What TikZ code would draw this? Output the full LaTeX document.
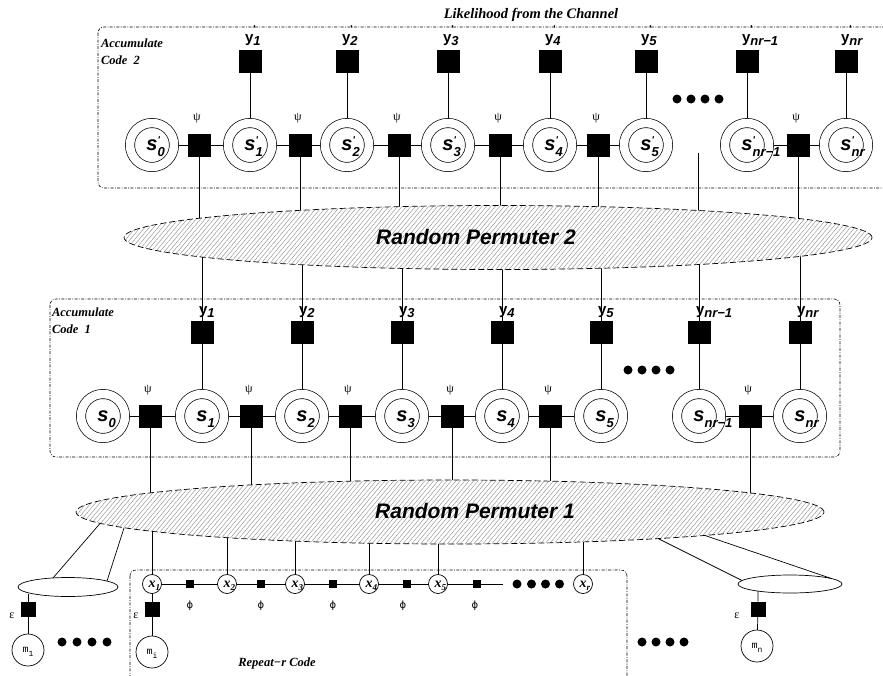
\documentclass[tikz,border=0pt]{standalone}
\usepackage{fontspec}
\usetikzlibrary{shapes.geometric,patterns.meta}
\newfontfamily\hv{Liberation Sans}
\newfontfamily\tms{Liberation Serif}
\newfontfamily\mono{Liberation Mono}
\newfontfamily\dvs{DejaVu Sans}
\newcommand{\fsz}[1]{\fontsize{#1}{#1}\selectfont}
\newcommand{\ylab}[1]{{\hv\bfseries\fsz{15}y\raisebox{-3pt}{\itshape\fsz{13}#1}}}
\newcommand{\ylabp}[1]{{\hv\bfseries\fsz{15}y\rlap{\smash{\raisebox{10pt}{\fsz{10}'}}}\raisebox{-3pt}{\itshape\fsz{13}#1}}}
\newcommand{\slab}[1]{{\hv\bfseries\itshape\fsz{20}s\rlap{\smash{\raisebox{-6pt}{\fsz{13}#1}}}}}
\newcommand{\slabp}[1]{{\hv\bfseries\itshape\fsz{20}s\rlap{\smash{\raisebox{7pt}{\fsz{10}'}}}\rlap{\smash{\raisebox{-6pt}{\fsz{13}#1}}}}}
\newcommand{\xlab}[1]{{\tms\bfseries\itshape\fsz{14}x\rlap{\smash{\raisebox{-3pt}{\fsz{9}#1}}}}}
\newcommand{\mlab}[1]{{\mono\fsz{10}m\smash{\raisebox{-4pt}{\fsz{8}#1}}}}
\begin{document}
\begin{tikzpicture}[x=1pt,y=-1pt,
  every node/.style={inner sep=0pt, outer sep=0pt},
  ln/.style={line width=0.7pt},
  state/.style={circle, draw, double, double distance=8.5pt, line width=0.7pt, minimum size=44pt, outer sep=5pt},
  bsq/.style={fill=black, minimum size=23pt},
  smsq/.style={fill=black, minimum size=8pt},
  esq/.style={fill=black, minimum size=15pt},
  xnd/.style={circle, draw, line width=0.7pt, minimum size=19pt},
  mnd/.style={circle, draw, line width=0.7pt, minimum size=32pt},
  grk/.style={font=\tms\fsz{12}},
  phs/.style={font=\dvs\fsz{10}},
  dbox/.style={draw, line width=0.6pt, dash pattern=on 3pt off 1.4pt on 0.8pt off 1.4pt, rounded corners=6pt},
  perm/.style={ellipse, draw, line width=0.7pt, dash pattern=on 6pt off 3pt, minimum width=748pt, minimum height=64pt, preaction={fill=white}, pattern={Lines[angle=50, distance=3.4pt, line width=0.45pt]}, pattern color=gray!85},
  sel/.style={ellipse, draw, line width=0.7pt, minimum height=19pt},
  ttl/.style={font=\tms\bfseries\itshape\fsz{14.5}},
  acc/.style={font=\tms\bfseries\itshape\fontsize{12.5}{16.5}\selectfont, anchor=west, align=left},
  pmt/.style={font=\hv\bfseries\itshape\fsz{21}},
  dotsty/.style={circle, fill=black, minimum size=9pt}
]
\useasboundingbox (0,0) rectangle (883,675);

% boxes
\draw[dbox] (98,27) rectangle (905,188);
\draw[dbox] (50,299) rectangle (840,457);
\draw[dbox] (130,570) rectangle (627,700);

\node[ttl] (title) at (531,15) {Likelihood from the Channel};
\node[acc] (acc2) at (101,51.5) {Accumulate\\Code\ \ 2};
\node[acc] (acc1) at (52,320.5) {Accumulate\\Code\ \ 1};
\node[font=\tms\bfseries\itshape\fsz{12.5}] (rep) at (277,663) {Repeat−r Code};

% ---- Accumulate code 2
\foreach \x/\s [count=\i from 0] in {152/0,250/1,347/2,448/3,550/4,646/5,747/nr−1,846/nr}
  \node[state] (sp\i) at (\x,145) {\slabp{\s}};
\foreach \x [count=\i] in {199,300,399,500,598,798} {
  \node[bsq] (pp\i) at (\x,145) {};
  \node[grk] (ppl\i) at (\x-2,118) {ψ};
}
\foreach \a/\b/\c in {0/1/1,1/2/2,2/3/3,3/4/4,4/5/5,6/6/7}
  \draw[ln] (sp\a) -- (pp\b) -- (sp\c);
\foreach \x/\s [count=\i] in {250/1,347/2,448/3,550/4,646/5,747/nr−1,846/nr} {
  \node[bsq] (yp\i) at (\x,61) {};
  \node[anchor=west] (ypl\i) at (\x-5,40) {\ylabp{\s}};
  \draw[ln] (yp\i) -- (sp\i);
}
\foreach \x [count=\i] in {677,691,705,719} \node[dotsty] (dta\i) at (\x,99) {};

% ---- Accumulate code 1
\foreach \x/\s [count=\i from 0] in {103/0,202/1,302/2,402/3,502/4,601/5,699/nr−1,800/nr}
  \node[state] (s\i) at (\x,416) {\slab{\s}};
\foreach \x [count=\i] in {150,251,350,452,550,750} {
  \node[bsq] (pa\i) at (\x,416) {};
  \node[grk] (pal\i) at (\x-2,390) {ψ};
}
\foreach \a/\b/\c in {0/1/1,1/2/2,2/3/3,3/4/4,4/5/5,6/6/7}
  \draw[ln] (s\a) -- (pa\b) -- (s\c);
\foreach \x/\s [count=\i] in {202/1,302/2,402/3,502/4,601/5,699/nr−1,800/nr} {
  \node[bsq] (ya\i) at (\x,332) {};
  \node[anchor=west] (yal\i) at (\x-3,312) {\ylab{\s}};
  \draw[ln] (ya\i) -- (s\i);
}
\foreach \x [count=\i] in {628,642,656,670} \node[dotsty] (dtb\i) at (\x,370) {};

% ---- Repeat code row
\foreach \x/\s [count=\i] in {152/1,227/2,295/3,369/4,438/5,583/r}
  \node[xnd] (x\i) at (\x,584) {\xlab{\s}};
\foreach \x [count=\i] in {190,261,333,407,477} \node[smsq] (q\i) at (\x,584) {};
\coordinate (qend) at (503,584);
\draw[ln] (x1) -- (q1) -- (x2) -- (q2) -- (x3) -- (q3) -- (x4) -- (q4) -- (x5) -- (q5) -- (qend);
\foreach \x [count=\i] in {190,261,333,403,475} \node[phs] (ph\i) at (\x,606) {ϕ};
\foreach \x [count=\i] in {517,531.5,545.5,559.5} \node[dotsty] (dtc\i) at (\x,584) {};

% ---- connections through permuters
\coordinate (c2) at (498,237.5);
\coordinate (c1) at (450,512);
\foreach \i in {1,...,6} \draw[ln] (pp\i.south) -- (pp\i.south |- c2);
\coordinate (lone) at (698,153);
\draw[ln] (lone) -- (lone |- c2);
\foreach \i in {1,...,7} \draw[ln] (ya\i.north) -- (ya\i.north |- c2);
\foreach \i in {1,...,6} \draw[ln] (pa\i.south) -- (pa\i.south |- c1);
\foreach \i in {1,...,6} \draw[ln] (x\i.north) -- (x\i.north |- c1);

\node[perm] (perm2) at (c2) {};
\node[pmt] (perm2t) at (476,237) {Random Permuter 2};
\node[perm] (perm1) at (c1) {};
\node[pmt] (perm1t) at (475,511) {Random Permuter 1};

% ---- left group
\node[sel, minimum width=100pt] (lel) at (68,587) {};
\coordinate (la1) at (100,523.5); \coordinate (la2) at (124,528);
\coordinate (lb1) at (53,578); \coordinate (lb2) at (107,581);
\draw[ln] (la1) -- (lb1);
\draw[ln] (la2) -- (lb2);
\coordinate (lc) at (28,593.5);
\node[esq] (eL) at (28,609) {};
\node[mnd] (m1) at (28,650) {\mlab{1}};
\draw[ln] (lc) -- (eL) -- (m1);
\node[grk] (epL) at (12,616) {ε};
\foreach \x [count=\i] in {62,77,92,107} \node[dotsty] (dtd\i) at (\x,642) {};

% ---- repeat group
\node[esq] (eI) at (152,609) {};
\node[mnd] (mi) at (152,652) {\mlab{i}};
\draw[ln] (x1) -- (eI) -- (mi);
\node[grk] (epI) at (136,616) {ε};

% ---- right group
\node[sel, minimum width=104pt, minimum height=18pt] (rel) at (790,584) {};
\coordinate (ra1) at (658,538.5); \coordinate (ra2) at (705,535.5);
\coordinate (rb1) at (742,580.5); \coordinate (rb2) at (832,578.7);
\draw[ln] (ra1) -- (rb1);
\draw[ln] (ra2) -- (rb2);
\coordinate (rc) at (758,591);
\node[esq] (eR) at (758,609) {};
\node[mnd] (mn) at (757,646) {\mlab{n}};
\draw[ln] (rc) -- (eR) -- (mn);
\node[grk] (epR) at (737,616) {ε};
\foreach \x [count=\i] in {642,656,670,684} \node[dotsty] (dte\i) at (\x,642) {};
\end{tikzpicture}
\end{document}
